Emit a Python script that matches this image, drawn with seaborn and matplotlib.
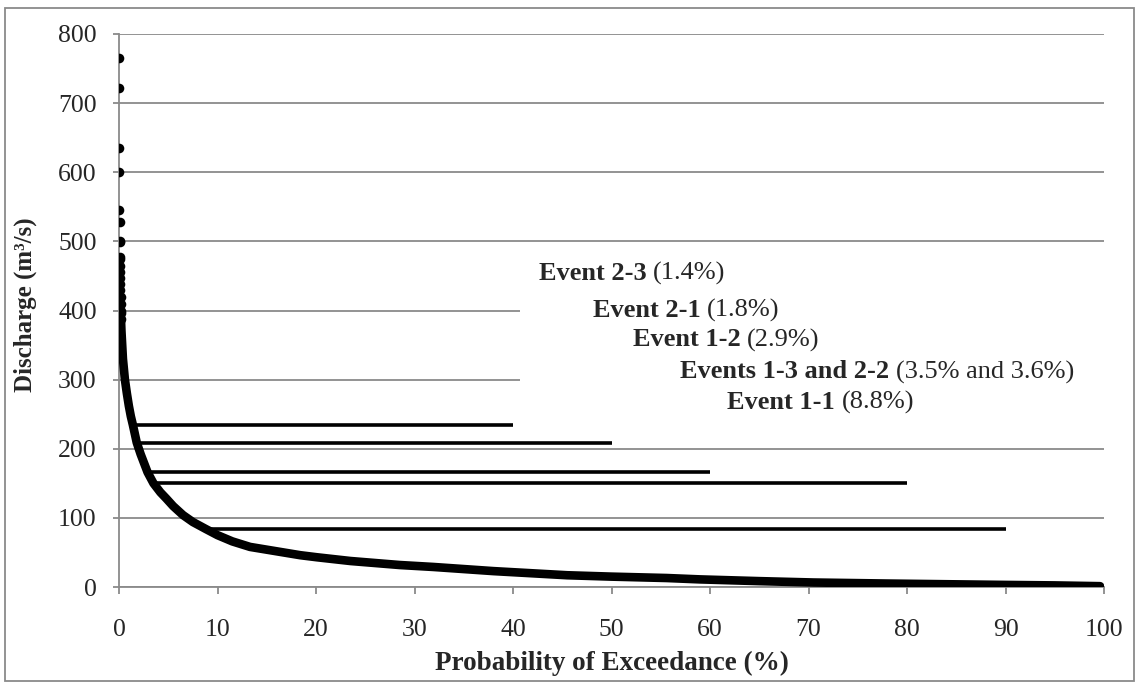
import matplotlib
matplotlib.use("Agg")
import matplotlib.pyplot as plt
from matplotlib.patches import Rectangle
import pandas as pd
import seaborn as sns

# Highest recorded discharges, plotted as individual points (exceedance %, m3/s)
peak_exceedance = [0.01, 0.02, 0.03, 0.04, 0.05, 0.06, 0.07, 0.08, 0.09, 0.10,
                   0.11, 0.12, 0.13, 0.14, 0.15, 0.16, 0.17, 0.18, 0.19, 0.20]
peak_discharge = [765, 722, 635, 600, 546, 528, 500, 499, 478, 474,
                  465, 455, 447, 438, 430, 420, 410, 400, 397, 388]

# Flow duration curve (exceedance %, m3/s)
fdc_exceedance = [0.20, 0.25, 0.4, 0.6, 0.8, 1.0, 1.2, 1.4, 1.8, 2.2, 2.9, 3.5,
                  4.2, 4.8, 5.5, 6.5, 7.5, 8.8, 10, 11.5, 13.3, 15, 16.7, 18.4,
                  20.1, 23.5, 28.5, 31.9, 38, 45.5, 50, 55.6, 59, 65, 70.5, 78,
                  84, 90, 95, 99.6]
fdc_discharge = [388, 370, 330, 300, 280, 262, 247, 235, 209, 192, 166, 150,
                 137, 128, 117, 104, 94, 84, 75, 66, 58, 54, 50, 46,
                 43, 37.6, 31.8, 29, 23, 17, 15, 13, 11, 8.5, 6.5, 5,
                 4, 3, 2.3, 1.2]

# Storm events: bold name, note, exceedance, peak discharge, reference line end
event_names = ["Event 2-3", "Event 2-1", "Event 1-2", "Events 1-3 and 2-2", "Event 1-1"]
event_notes = ["(1.4%)", "(1.8%)", "(2.9%)", "(3.5% and 3.6%)", "(8.8%)"]
event_exceedance = [1.4, 1.8, 2.9, 3.5, 8.8]
event_discharge = [235, 209, 166, 150, 84]
event_line_end = [40, 50, 60, 80, 90]

x_ticks = [0, 10, 20, 30, 40, 50, 60, 70, 80, 90, 100]
y_ticks = [0, 100, 200, 300, 400, 500, 600, 700, 800]

sns.set_theme(style="white")
plt.rcParams["font.family"] = ["Liberation Serif", "DejaVu Serif"]

grid_grey = "#8a8a8a"

fig = plt.figure(figsize=(11.39, 6.82), dpi=100)
ax = fig.add_axes([119 / 1139, 95 / 682, 985 / 1139, 553 / 682])

# chart-area frame
fig.patches.append(Rectangle((5 / 1139, 1.5 / 682), 1129 / 1139, 673 / 682,
                             transform=fig.transFigure, fill=False,
                             edgecolor=grid_grey, linewidth=1.3, zorder=0))

curve = pd.DataFrame({"p": fdc_exceedance, "q": fdc_discharge})
peaks = pd.DataFrame({"p": peak_exceedance, "q": peak_discharge})

sns.lineplot(data=curve, x="p", y="q", ax=ax, color="black", linewidth=6.2,
             sort=False, zorder=4, solid_capstyle="round", solid_joinstyle="round")
sns.scatterplot(data=peaks, x="p", y="q", ax=ax, color="black", s=48,
                edgecolor="black", linewidth=0, zorder=4)

ax.hlines(event_discharge, event_exceedance, event_line_end, color="black",
          linewidth=2.6, zorder=3)

ax.set_xlim(0, 100)
ax.set_ylim(0, 800)
ax.set_xticks(x_ticks)
ax.set_yticks(y_ticks)
ax.yaxis.grid(True, color=grid_grey, linewidth=1.3, zorder=0)
ax.set_axisbelow(True)
for side in ("top", "right"):
    ax.spines[side].set_visible(False)
for side in ("left", "bottom"):
    ax.spines[side].set_color(grid_grey)
    ax.spines[side].set_linewidth(1.3)
ax.tick_params(axis="x", direction="out", length=5, width=1.3, color=grid_grey,
               labelsize=18.5, pad=18, bottom=True)
ax.tick_params(axis="y", direction="out", length=4, width=1.3, color=grid_grey,
               labelsize=18.5, pad=12, left=True)

ax.set_xlabel("Probability of Exceedance (%)", fontsize=19.5, fontweight="bold")
ax.xaxis.set_label_coords(0.5, -0.115)
ax.set_ylabel("Discharge (m³/s)", fontsize=18, fontweight="bold")
ax.yaxis.set_label_coords(-0.083, 0.51)

# white panel behind the event annotations
ax.add_patch(Rectangle((0.407, 0.305), 0.6, 0.295, transform=ax.transAxes,
                       facecolor="white", edgecolor="none", zorder=1,
                       clip_on=False))

label_x = [0.4264, 0.4812, 0.5218, 0.5695, 0.6173]
label_y = [0.5678, 0.5009, 0.4467, 0.3888, 0.3345]
for name, note, lx, ly in zip(event_names, event_notes, label_x, label_y):
    t = ax.text(lx, ly, name + " ", transform=ax.transAxes, fontsize=19,
                fontweight="bold", va="center", ha="left", zorder=5)
    ax.annotate(note, xy=(1, 0.5), xycoords=t, fontsize=19, va="center",
                ha="left", zorder=5)

fig.savefig("out.png", dpi=100)
